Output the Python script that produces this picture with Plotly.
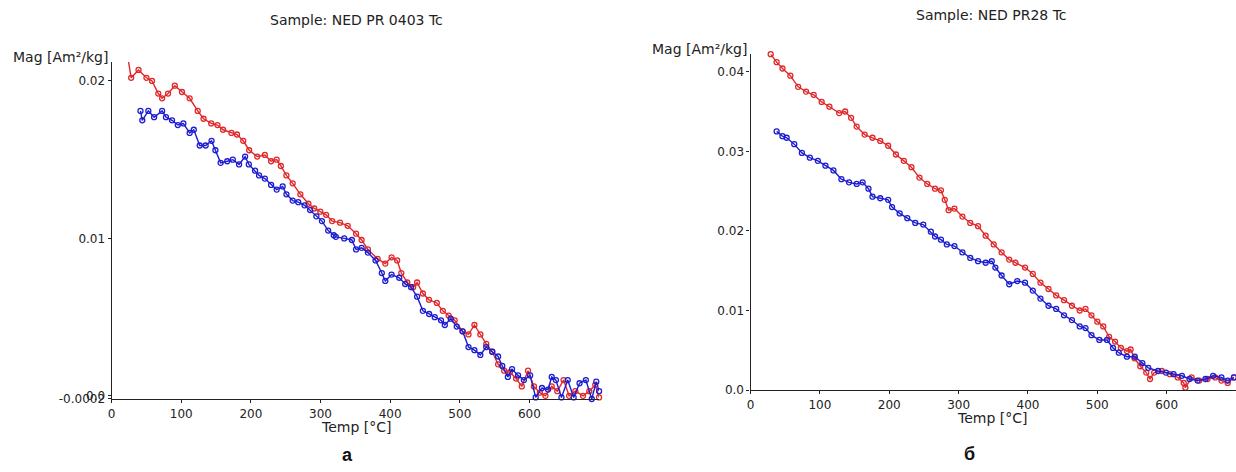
import plotly.graph_objects as go

W, H = 1236, 472

# Sample NED PR 0403: heating (red) and cooling (blue) curves, Mag vs Temp
a_red_T = [24, 28, 38.6, 50, 58, 67, 72.5, 81, 90.7, 101, 112, 123.6, 132, 143, 152, 160, 172, 180, 189,
           197.5, 209, 220, 229, 237, 243, 251, 260, 271, 282.6, 291, 299.7, 308, 316.7, 328, 339, 351,
           359, 368, 382, 393, 402, 410, 416, 424.6, 433, 438.7, 447, 455.8, 467, 475.6, 484, 492.6,
           504, 512.5, 521, 529.5, 538, 546.6, 555, 563.7, 572, 580.8, 589, 598, 606.5, 615, 623, 632,
           640, 649, 657, 666, 677, 686, 694.5, 700]
a_red_M = [0.0213, 0.0202, 0.0207, 0.0202, 0.0200, 0.0192, 0.0189, 0.0192, 0.0197, 0.0193, 0.0189, 0.0181,
           0.0176, 0.0173, 0.0172, 0.0169, 0.0167, 0.0166, 0.0162, 0.0156, 0.0152, 0.0153, 0.0149, 0.0150,
           0.0146, 0.0140, 0.0135, 0.0128, 0.0122, 0.0119, 0.0117, 0.0115, 0.0111, 0.0110, 0.0108, 0.0103,
           0.0099, 0.0093, 0.0087, 0.0084, 0.0088, 0.0086, 0.0078, 0.0072, 0.0069, 0.0072, 0.0065, 0.0061,
           0.0059, 0.0054, 0.0051, 0.0048, 0.0041, 0.0039, 0.0045, 0.0039, 0.0033, 0.0028, 0.0020, 0.0016,
           0.0015, 0.0011, 0.0006, 0.0016, 0.0006, 0.0002, 0.0000, 0.0006, 0.0003, 0.0010, 0.0000, 0.0003,
           0.0000, 0.0003, 0.0007, -0.0001]

a_blue_T = [41.4, 44, 52.7, 61, 72.5, 78, 86.7, 95, 103, 112, 118, 126.5, 135, 143.5, 149, 156.5, 166, 174,
            183, 191.7, 197, 206, 211.7, 220, 229, 237, 245.6, 251, 260, 268, 277, 285, 294, 302, 311, 319,
            322, 334, 345, 351, 359, 368, 379, 388, 393, 402, 413, 421.6, 430, 438.7, 447, 456, 464, 473,
            478.5, 487, 495.6, 504, 512.5, 521, 529.5, 538, 546.6, 555, 561, 569, 575, 583.7, 592, 601,
            609, 618, 626.7, 632, 638, 646, 655, 663.5, 672, 681, 689.5, 696, 700]
a_blue_M = [0.0181, 0.0175, 0.0181, 0.0177, 0.0181, 0.0177, 0.0175, 0.0172, 0.0173, 0.0167, 0.0169, 0.0159,
            0.0159, 0.0162, 0.0156, 0.0148, 0.0149, 0.0150, 0.0147, 0.0152, 0.0147, 0.0143, 0.0140, 0.0138,
            0.0134, 0.0131, 0.0133, 0.0128, 0.0124, 0.0123, 0.0121, 0.0118, 0.0114, 0.0111, 0.0105, 0.0102,
            0.0101, 0.0100, 0.0099, 0.0093, 0.0094, 0.0091, 0.0086, 0.0078, 0.0073, 0.0077, 0.0075, 0.0071,
            0.0069, 0.0063, 0.0054, 0.0052, 0.0050, 0.0048, 0.0045, 0.0049, 0.0044, 0.0041, 0.0031, 0.0029,
            0.0026, 0.0031, 0.0028, 0.0025, 0.0019, 0.0012, 0.0017, 0.0013, 0.0010, 0.0013, -0.0001, 0.0005,
            0.0004, 0.0012, 0.0010, -0.0001, 0.0010, -0.0001, 0.0008, 0.0010, -0.0002, 0.0009, 0.0003]

# Sample NED PR28
b_red_T = [29, 37.6, 46, 57.4, 68.6, 80, 91, 102.5, 113.7, 127.8, 136.4, 145, 153, 164.5, 175.8, 187, 198.4,
           209.6, 221, 232, 243.5, 254.8, 266, 274.5, 280, 285.6, 294, 305.5, 316.8, 328, 339, 350.6, 362,
           373, 382, 395.8, 407, 418, 429.6, 440.7, 452, 463.4, 474.6, 483, 491.6, 500, 508.6, 517, 525.6,
           534, 542.7, 548, 553.7, 562, 570.6, 576, 582, 593, 604.5, 616, 624.6, 627, 636, 647, 659, 670,
           679, 688, 697]
b_red_M = [0.0422, 0.0412, 0.0404, 0.0395, 0.0381, 0.0375, 0.0371, 0.0362, 0.0356, 0.0348, 0.0350, 0.0342,
           0.0331, 0.0321, 0.0317, 0.0313, 0.0307, 0.0296, 0.0288, 0.0280, 0.0267, 0.0259, 0.0253, 0.0251,
           0.0239, 0.0226, 0.0228, 0.0218, 0.0210, 0.0206, 0.0194, 0.0183, 0.0173, 0.0164, 0.0160, 0.0154,
           0.0146, 0.0135, 0.0127, 0.0119, 0.0113, 0.0106, 0.0100, 0.0102, 0.0094, 0.0086, 0.0080, 0.0067,
           0.0061, 0.0053, 0.0049, 0.0051, 0.0040, 0.0030, 0.0022, 0.0014, 0.0022, 0.0024, 0.0020, 0.0016,
           0.0009, 0.0003, 0.0016, 0.0012, 0.0014, 0.0016, 0.0012, 0.0009, 0.0016]

b_blue_T = [37.6, 46, 52, 63, 74, 85.5, 97, 108, 119.5, 131, 142, 153, 161.6, 170, 175.8, 187, 198.4, 204,
            215, 226, 237.5, 249, 260, 266, 274.5, 283, 294, 305.5, 316.8, 328, 339, 347.8, 353, 362, 373,
            384.6, 395.8, 407, 418, 429.6, 440.7, 452, 463.4, 474.6, 483, 491.6, 503, 514, 522.7, 531, 542.7,
            554, 565, 573.5, 587.6, 599, 610, 622, 633, 644.6, 656, 667, 679, 688, 697]
b_blue_M = [0.0325, 0.0319, 0.0317, 0.0309, 0.0298, 0.0292, 0.0288, 0.0282, 0.0276, 0.0265, 0.0261, 0.0259,
            0.0261, 0.0253, 0.0243, 0.0241, 0.0239, 0.0230, 0.0222, 0.0216, 0.0210, 0.0208, 0.0199, 0.0193,
            0.0189, 0.0183, 0.0181, 0.0173, 0.0166, 0.0162, 0.0160, 0.0162, 0.0154, 0.0144, 0.0133, 0.0137,
            0.0135, 0.0125, 0.0115, 0.0106, 0.0102, 0.0094, 0.0088, 0.0080, 0.0078, 0.0069, 0.0063, 0.0063,
            0.0053, 0.0047, 0.0042, 0.0042, 0.0034, 0.0028, 0.0024, 0.0022, 0.0020, 0.0018, 0.0014, 0.0012,
            0.0014, 0.0018, 0.0016, 0.0012, 0.0016]

titles = ["Sample: NED PR 0403 Tc", "Sample: NED PR28 Tc"]
panel_labels = ["а", "б"]
x_ticks = [0, 100, 200, 300, 400, 500, 600]
a_y_ticks = [-0.0002, 0.0, 0.01, 0.02]
a_y_text = ["-0.0002", "0.0", "0.01", "0.02"]
b_y_ticks = [0.0, 0.01, 0.02, 0.03, 0.04]
b_y_text = ["0.0", "0.01", "0.02", "0.03", "0.04"]

RED = "#e0282a"
BLUE = "#1c1cd0"
FONT = "DejaVu Sans, sans-serif"
BOLD_FONT = "Arial, Liberation Sans, sans-serif"


def px_x(p):
    return p / W


def px_y(p):
    return 1 - p / H


def curve(x, y, color, xa, ya):
    return go.Scatter(
        x=x, y=y, xaxis=xa, yaxis=ya, mode="lines+markers", cliponaxis=False,
        line=dict(color=color, width=1.4),
        marker=dict(symbol="circle-open", size=5, color=color, line=dict(width=1.3, color=color)),
        hoverinfo="skip", showlegend=False,
    )


fig = go.Figure()
fig.add_trace(curve(a_red_T, a_red_M, RED, "x", "y"))
fig.add_trace(curve(a_blue_T, a_blue_M, BLUE, "x", "y"))
fig.add_trace(curve(b_red_T, b_red_M, RED, "x2", "y2"))
fig.add_trace(curve(b_blue_T, b_blue_M, BLUE, "x2", "y2"))

axis_common = dict(
    showgrid=False, zeroline=False, showline=True, linecolor="#222", linewidth=1.3,
    ticks="outside", ticklen=3, tickcolor="#222", tickwidth=1,
    tickfont=dict(family=FONT, size=12, color="#222"), fixedrange=True,
)

fig.update_layout(
    width=W, height=H,
    margin=dict(l=0, r=0, t=0, b=0),
    paper_bgcolor="white", plot_bgcolor="white",
    xaxis=dict(domain=[px_x(108), px_x(597)], range=[0, 700], tickvals=x_ticks,
               anchor="y", **axis_common),
    yaxis=dict(domain=[px_y(405), px_y(63)], range=[-0.0002, 0.0212], tickvals=a_y_ticks,
               ticktext=a_y_text, anchor="x", **axis_common),
    xaxis2=dict(domain=[px_x(749), 1.0], range=[0, 700], tickvals=x_ticks,
                anchor="y2", **axis_common),
    yaxis2=dict(domain=[px_y(396), px_y(55)], range=[0, 0.0422], tickvals=b_y_ticks,
                ticktext=b_y_text, anchor="x2", **axis_common),
)

ann = []
text_font = dict(family=FONT, size=14, color="#222")
# titles
ann.append(dict(x=px_x(354), y=px_y(20), text=titles[0], xanchor="center", yanchor="middle"))
ann.append(dict(x=px_x(991), y=px_y(15), text=titles[1], xanchor="center", yanchor="middle"))
# y-axis titles
ann.append(dict(x=px_x(106), y=px_y(58), text="Mag [Am²/kg]", xanchor="right", yanchor="middle"))
ann.append(dict(x=px_x(747), y=px_y(50), text="Mag [Am²/kg]", xanchor="right", yanchor="middle"))
# x-axis titles
ann.append(dict(x=px_x(353), y=px_y(433), text="Temp [°C]", xanchor="center", yanchor="middle"))
ann.append(dict(x=px_x(991), y=px_y(424), text="Temp [°C]", xanchor="center", yanchor="middle"))
for a in ann:
    a.update(xref="paper", yref="paper", showarrow=False, font=text_font)

# panel letters
for lbl, xp, yp in [(panel_labels[0], 345, 462), (panel_labels[1], 969, 461)]:
    ann.append(dict(x=px_x(xp), y=px_y(yp), text="<b>" + lbl + "</b>", xref="paper", yref="paper",
                    showarrow=False, xanchor="center", yanchor="middle",
                    font=dict(family=BOLD_FONT, size=18, color="#111")))

fig.update_layout(annotations=ann)
fig.write_html("out.html")
